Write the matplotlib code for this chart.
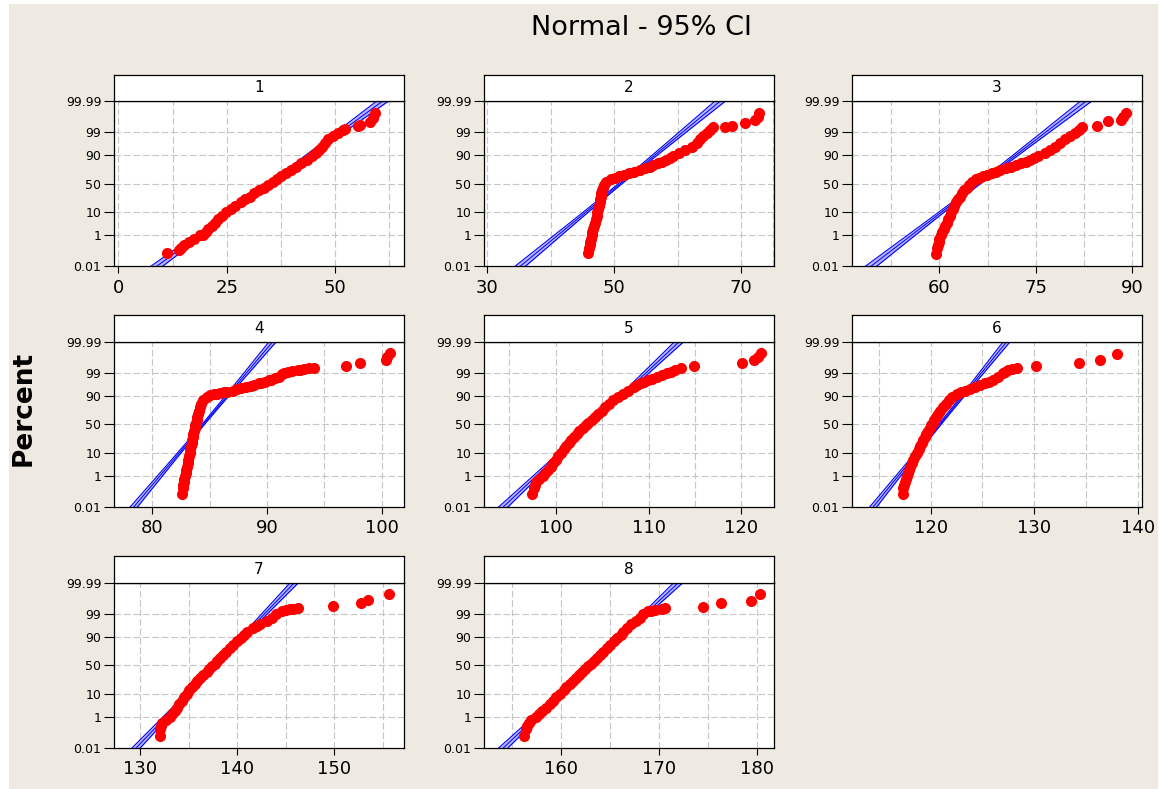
import matplotlib
matplotlib.use("Agg")
import matplotlib.pyplot as plt
from matplotlib.patches import Rectangle
import numpy as np
from statistics import NormalDist

W, H = 1165, 789
nd = NormalDist()


def zq(p):
    # percent -> normal quantile (probability scale)
    return nd.inv_cdf(p / 100.0)


# percent levels at which the dense part of each curve was read
levels = [0.2, 0.3, 0.45, 0.65, 1, 1.4, 2, 2.8, 4, 5.5, 7.5, 10, 13, 16, 20, 24, 28, 33, 38, 43,
          48, 53, 58, 63, 68, 73, 78, 82, 86, 89, 91.5, 93.5, 95.3, 96.7, 97.7, 98.4, 98.9, 99.25]

p1_x = [14.5, 15.2, 16.2, 17.4, 18.8, 20.2, 20.8, 21.5, 22.3, 23.0, 23.8, 24.8, 26.0, 27.0, 28.2, 29.3,
        30.3, 31.4, 32.5, 33.6, 34.6, 35.6, 36.6, 37.6, 38.7, 39.9, 41.1, 42.2, 43.5, 44.6, 45.6, 46.3,
        47.0, 47.6, 48.4, 49.6, 50.6, 51.8]
p1_ex_x = [11.2, 13.9, 19.6, 52.3, 55.4, 55.8, 58.1, 58.8, 59.2]
p1_ex_p = [0.09, 0.15, 1.1, 99.35, 99.56, 99.6, 99.72, 99.85, 99.93]

p2_x = [46.03, 46.14, 46.24, 46.35, 46.46, 46.56, 46.72, 46.83, 46.98, 47.09, 47.25, 47.35, 47.5, 47.6,
        47.7, 47.8, 47.9, 48.0, 48.1, 48.25, 48.4, 48.7, 49.5, 50.8, 52.4, 54.0, 55.6, 56.9, 58.2, 59.3,
        60.3, 61.2, 62.2, 63.0, 63.5, 64.0, 64.6, 65.1]
p2_ex_x = [45.87, 50.1, 51.6, 53.2, 54.8, 56.2, 57.6, 58.75, 65.6, 67.5, 68.5, 70.7, 72.2, 72.6, 72.9]
p2_ex_p = [0.09, 60.5, 65.5, 70.5, 75.5, 80, 84, 87.5, 99.45, 99.5, 99.55, 99.7, 99.8, 99.87, 99.93]

p3_x = [59.69, 59.79, 59.9, 60.0, 60.2, 60.41, 60.67, 60.93, 61.19, 61.4, 61.66, 61.86, 62.12, 62.33,
        62.64, 62.9, 63.16, 63.52, 63.88, 64.24, 64.6, 65.02, 65.69, 66.83, 68.12, 69.42, 71.23, 72.78,
        74.07, 75.36, 76.4, 77.18, 77.95, 78.73, 79.5, 80.28, 81.05, 81.73]
p3_ex_x = [59.48, 66.2, 67.45, 68.8, 70.35, 72.0, 73.45, 74.7, 82.25, 84.6, 86.2, 88.3, 88.6, 89.1]
p3_ex_p = [0.08, 60.5, 65.5, 70.5, 75.5, 80, 84, 87.5, 99.45, 99.55, 99.76, 99.8, 99.87, 99.93]

p4_x = [82.645, 82.70, 82.73, 82.79, 82.85, 82.91, 82.97, 83.02, 83.08, 83.14, 83.20, 83.26, 83.31,
        83.37, 83.43, 83.49, 83.52, 83.58, 83.63, 83.69, 83.75, 83.81, 83.87, 83.92, 83.98, 84.04,
        84.13, 84.24, 84.39, 84.74, 85.63, 87.0, 88.2, 89.3, 90.2, 91.0, 91.5, 92.7]
p4_ex_x = [82.56, 85.04, 85.34, 85.93, 86.23, 86.52, 87.41, 87.71, 88.60, 88.90, 89.49, 89.79, 90.38,
           90.67, 91.27, 91.86, 92.16, 92.85, 93.24, 93.64, 94.13, 96.9, 98.09, 100.36, 100.5, 100.73]
p4_ex_p = [0.08, 90.3, 91.0, 92.0, 92.4, 92.8, 94.2, 94.7, 95.9, 96.3, 96.9, 97.2, 97.8, 98.1, 98.8,
           99.1, 99.15, 99.3, 99.35, 99.4, 99.46, 99.56, 99.72, 99.81, 99.87, 99.93]

p5_x = [97.64, 97.75, 97.9, 98.19, 98.62, 98.91, 99.2, 99.46, 99.75, 100.0, 100.29, 100.54, 100.87,
        101.12, 101.45, 101.7, 101.96, 102.28, 102.57, 102.9, 103.22, 103.51, 103.88, 104.24, 104.6,
        104.96, 105.36, 105.72, 106.2, 106.7, 107.25, 107.79, 108.44, 109.17, 109.96, 110.87, 111.96,
        112.86]
p5_ex_x = [97.46, 108.8, 109.53, 110.4, 111.41, 112.43, 113.48, 114.9, 120.1, 121.4, 121.8, 122.1]
p5_ex_p = [0.08, 96.0, 97.2, 98.0, 98.65, 99.1, 99.4, 99.56, 99.72, 99.8, 99.87, 99.93]

p6_x = [117.36, 117.42, 117.52, 117.58, 117.68, 117.78, 117.87, 118.0, 118.16, 118.33, 118.52, 118.68,
        118.84, 118.97, 119.16, 119.29, 119.42, 119.58, 119.74, 119.9, 120.03, 120.19, 120.35, 120.52,
        120.71, 120.93, 121.22, 121.45, 121.74, 122.09, 122.58, 123.32, 124.28, 125.25, 125.99, 126.54,
        126.96, 127.5]
p6_ex_x = [117.29, 122.93, 123.8, 124.77, 125.64, 127.21, 127.83, 128.3, 130.2, 134.3, 136.3, 138.0]
p6_ex_p = [0.08, 92.5, 94.4, 96.0, 97.2, 99.1, 99.35, 99.47, 99.55, 99.72, 99.8, 99.92]

p7_x = [132.09, 132.13, 132.26, 132.64, 133.09, 133.33, 133.57, 133.81, 134.05, 134.32, 134.53, 134.8,
        135.08, 135.32, 135.66, 135.9, 136.17, 136.52, 136.86, 137.13, 137.44, 137.72, 137.96, 138.23,
        138.5, 138.85, 139.26, 139.6, 140.01, 140.36, 140.7, 141.04, 141.59, 142.35, 143.03, 143.55,
        144.0, 144.57]
p7_ex_x = [132.06, 142.0, 145.02, 145.43, 145.77, 146.22, 149.9, 152.8, 153.5, 155.65]
p7_ex_p = [0.07, 96.0, 99.35, 99.4, 99.45, 99.5, 99.6, 99.73, 99.83, 99.93]

p8_x = [156.48, 156.58, 156.75, 156.99, 157.44, 157.78, 158.12, 158.46, 158.87, 159.21, 159.56, 159.93,
        160.31, 160.58, 160.92, 161.26, 161.54, 161.88, 162.19, 162.5, 162.77, 163.08, 163.35, 163.69,
        164.0, 164.34, 164.72, 165.06, 165.4, 165.74, 166.09, 166.39, 166.74, 167.18, 167.62, 168.03,
        168.38, 168.89]
p8_ex_x = [156.31, 169.23, 169.57, 170.26, 170.6, 174.43, 176.31, 179.32, 180.24]
p8_ex_p = [0.07, 99.3, 99.35, 99.45, 99.5, 99.57, 99.73, 99.81, 99.93]

panel_x = [p1_x, p2_x, p3_x, p4_x, p5_x, p6_x, p7_x, p8_x]
extra_x = [p1_ex_x, p2_ex_x, p3_ex_x, p4_ex_x, p5_ex_x, p6_ex_x, p7_ex_x, p8_ex_x]
extra_p = [p1_ex_p, p2_ex_p, p3_ex_p, p4_ex_p, p5_ex_p, p6_ex_p, p7_ex_p, p8_ex_p]

# fitted normal line per panel (mean, stdev) and sample size for the 95% CI
fit_mu = [34.9, 50.95, 66.1, 84.45, 103.85, 120.9, 137.75, 163.08]
fit_sigma = [7.0, 4.235, 4.5, 1.625, 2.54, 1.73, 2.19, 2.39]
n_obs = 800

x_lims = [(-1.0, 65.9), (29.48, 75.2), (46.4, 91.55), (76.66, 101.94),
          (92.3, 123.5), (112.4, 140.4), (127.3, 157.2), (152.2, 181.7)]
x_major = [[0, 25, 50], [30, 50, 70], [60, 75, 90], [80, 90, 100],
           [100, 110, 120], [120, 130, 140], [130, 140, 150], [160, 170, 180]]
x_grid = [[0, 12.5, 25, 37.5, 50, 62.5], [30, 40, 50, 60, 70, 75], [52.5, 60, 67.5, 75, 82.5, 90],
          [80, 85, 90, 95, 100], [95, 100, 105, 110, 115, 120], [115, 120, 125, 130, 135, 140],
          [130, 135, 140, 145, 150, 155], [155, 160, 165, 170, 175, 180]]

y_ticks = [0.01, 1, 10, 50, 90, 99, 99.99]
y_labels = ['0.01', '1', '10', '50', '90', '99', '99.99']
y_grid = [1, 10, 50, 90, 99]

BG = '#EEEAE1'
GRID = '#C6C6C6'

fig = plt.figure(figsize=(W / 100, H / 100), dpi=100)
fig.patch.set_facecolor('white')
fig.patches.append(Rectangle((9 / W, 0), (1158 - 9) / W, (H - 4) / H, transform=fig.transFigure,
                             facecolor=BG, edgecolor='none', zorder=-10))

col_left = [114, 484, 852]
row_top = [101.2, 341.7, 582.7]
pw, ph, sh = 290, 165, 26.5
zlo, zhi = zq(0.01), zq(99.99)

for i in range(8):
    r, c = divmod(i, 3)
    left = col_left[c] / W
    bottom = 1 - (row_top[r] + ph) / H
    ax = fig.add_axes([left, bottom, pw / W, ph / H])
    ax.set_facecolor('white')
    ax.set_xlim(*x_lims[i])
    ax.set_ylim(zlo, zhi)

    for g in x_grid[i]:
        ax.axvline(g, color=GRID, lw=0.8, ls=(0, (6, 2.5)), zorder=0.5)
    for p in y_grid:
        ax.axhline(zq(p), color=GRID, lw=0.8, ls=(0, (6, 2.5)), zorder=0.5)

    zz = np.linspace(zlo - 0.1, zhi + 0.1, 200)
    xf = fit_mu[i] + fit_sigma[i] * zz
    half = 1.96 * fit_sigma[i] * np.sqrt((1 + zz ** 2 / 2) / n_obs)
    ax.fill_betweenx(zz, xf - half, xf + half, color='#B4B4FF', lw=0, zorder=1.8)
    ax.plot(xf, zz, color='#0000FF', lw=0.7, zorder=2)
    ax.plot(xf - half, zz, color='#0000FF', lw=0.8, zorder=2)
    ax.plot(xf + half, zz, color='#0000FF', lw=0.8, zorder=2)

    xs = panel_x[i] + extra_x[i]
    ps = levels + extra_p[i]
    ax.plot(xs, [zq(p) for p in ps], 'o', color='#FF0000', ms=8, mew=0, zorder=3)

    ax.set_yticks([zq(p) for p in y_ticks])
    ax.set_yticklabels(y_labels, fontsize=9)
    ax.set_xticks(x_major[i])
    ax.set_xticklabels([str(v) for v in x_major[i]], fontsize=13)
    ax.tick_params(axis='y', length=7, width=0.8, pad=2, colors='black')
    ax.tick_params(axis='x', length=5, width=0.8, pad=4, colors='black')
    for s in ax.spines.values():
        s.set_linewidth(0.9)
        s.set_color('black')

    sax = fig.add_axes([left, 1 - row_top[r] / H, pw / W, sh / H])
    sax.set_facecolor('white')
    sax.set_xticks([])
    sax.set_yticks([])
    for s in sax.spines.values():
        s.set_linewidth(0.9)
        s.set_color('black')
    sax.text(0.5, 0.5, str(i + 1), ha='center', va='center', fontsize=11)

fig.text(641 / W, 1 - 35 / H, 'Normal - 95% CI', ha='center', va='baseline', fontsize=19.5)
fig.text(24 / W, 1 - 408 / H, 'Percent', rotation=90, ha='center', va='center',
         fontsize=19, fontweight='bold')

fig.savefig('out.png', dpi=100)
